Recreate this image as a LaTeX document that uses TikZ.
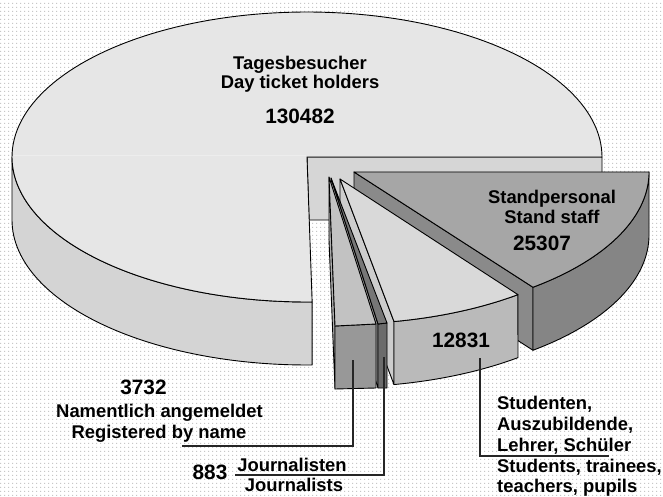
\documentclass[tikz,border=0pt]{standalone}
\usepackage{fontspec}
\setmainfont{Liberation Sans}
\usetikzlibrary{patterns.meta}
\tikzdeclarepattern{
  name=bgdots,
  type=uncolored,
  bounding box={(0pt,0pt) and (4pt,4pt)},
  tile size={(4pt,4pt)},
  code={\pgfpathrectangle{\pgfpoint{1.4pt}{1.4pt}}{\pgfpoint{1.2pt}{1.2pt}}\pgfusepath{fill}}
}
\definecolor{bigtop}{HTML}{E6E6E6}
\definecolor{bigwall}{HTML}{D4D4D4}
\definecolor{bigface}{HTML}{D6D6D6}
\definecolor{sptop}{HTML}{A6A6A6}
\definecolor{spwall}{HTML}{858585}
\definecolor{spcut}{HTML}{8A8A8A}
\definecolor{sttop}{HTML}{D9D9D9}
\definecolor{stfront}{HTML}{BABABA}
\definecolor{stcut}{HTML}{CDCDCD}
\definecolor{jtop}{HTML}{777777}
\definecolor{jfront}{HTML}{6B6B6B}
\definecolor{jcut}{HTML}{9A9A9A}
\definecolor{ntop}{HTML}{C2C2C2}
\definecolor{nfront}{HTML}{989898}
\definecolor{ncut}{HTML}{B0B0B0}
\definecolor{faint}{HTML}{EDEDED}
\begin{document}
\begin{tikzpicture}[x=1pt,y=-1pt,
  edge/.style={draw=black, line width=0.9pt, line join=round},
  lead/.style={draw=black!85, line width=1.3pt},
  lbl/.style={font=\fontsize{18.4}{20}\selectfont\bfseries, inner sep=0pt, anchor=base},
  num/.style={font=\fontsize{20.8}{22}\selectfont\bfseries, inner sep=0pt, anchor=base}]
\useasboundingbox (0,0) rectangle (663,497);
\fill[white] (0,0) rectangle (663,497);
\fill[pattern=bgdots, pattern color=black!22] (0,0) rectangle (663,497);

% big slice: wall, cut face, top
\filldraw[edge, fill=bigwall] plot[domain=180:271, samples=60, variable=\t] ({307+295*cos(\t)},{157-145*sin(\t)})
  -- plot[domain=271:180, samples=60, variable=\t] ({307+295*cos(\t)},{220-145*sin(\t)}) -- cycle;
\filldraw[edge, fill=bigface] (307,157) -- (602,157) -- (602,220) -- (309,220) -- cycle;
\filldraw[edge, fill=bigtop] (307,157) -- plot[domain=0:271, samples=150, variable=\t] ({307+295*cos(\t)},{157-145*sin(\t)}) -- cycle;
\draw[color=faint, line width=0.6pt] (13,155.5) -- (306,155.5);

% Standpersonal
\filldraw[edge, fill=spcut] (354,172) -- (533,287.3) -- (533,350.3) -- (354,235) -- cycle;
\filldraw[edge, fill=spwall] plot[domain=-52.65:0, samples=50, variable=\t] ({354+295*cos(\t)},{172-145*sin(\t)})
  -- plot[domain=0:-52.65, samples=50, variable=\t] ({354+295*cos(\t)},{235-145*sin(\t)}) -- cycle;
\filldraw[edge, fill=sptop] (354,172) -- plot[domain=0:-52.65, samples=50, variable=\t] ({354+295*cos(\t)},{172-145*sin(\t)}) -- cycle;

% 12831
\filldraw[edge, fill=stcut] (340,179) -- (394,321.6) -- (394,384.6) -- (340,242) -- cycle;
\filldraw[edge, fill=stfront] plot[domain=-79.45:-52.9, samples=40, variable=\t] ({340+295*cos(\t)},{179-145*sin(\t)})
  -- plot[domain=-52.9:-79.45, samples=40, variable=\t] ({340+295*cos(\t)},{242-145*sin(\t)}) -- cycle;
\filldraw[edge, fill=sttop] (340,179) -- plot[domain=-79.45:-52.9, samples=40, variable=\t] ({340+295*cos(\t)},{179-145*sin(\t)}) -- cycle;

% 883
\filldraw[edge, fill=jcut] (331,178) -- (378,324) -- (378,388) -- (331,241) -- cycle;
\filldraw[edge, fill=jfront] (378,324) -- (387,323) -- (387,388) -- (378,388) -- cycle;
\filldraw[edge, fill=jtop] (331,178) -- (378,324) -- (387,323) -- cycle;

% 3732
\filldraw[edge, fill=ncut] (329,177) -- (335,326) -- (335,389) -- (329,240) -- cycle;
\filldraw[edge, fill=nfront] (335,326) -- (376,324) -- (376,388) -- (335,389) -- cycle;
\filldraw[edge, fill=ntop] (329,177) -- (335,326) -- (376,324) -- cycle;

% labels
\node[lbl] (tb1) at (300,70) {Tagesbesucher};
\node[lbl] (tb2) at (300,89) {Day ticket holders};
\node[num] (tbn) at (300,124) {130482};
\node[lbl] (sp1) at (552,203) {Standpersonal};
\node[lbl] (sp2) at (552,223) {Stand staff};
\node[num] (spn) at (542,250) {25307};
\node[num] (stn) at (461,347) {12831};
\node[num] (nan) at (143.5,394) {3732};
\node[lbl] (na1) at (159.5,417) {Namentlich angemeldet};
\node[lbl] (na2) at (159,438) {Registered by name};
\node[num] (jon) at (210,479) {883};
\node[lbl] (jo1) at (292,471) {Journalisten};
\node[lbl] (jo2) at (294,491) {Journalists};
\node[lbl, anchor=base west] (st1) at (497,409) {Studenten,};
\node[lbl, anchor=base west] (st2) at (497,430.5) {Auszubildende,};
\node[lbl, anchor=base west] (st3) at (497,451.5) {Lehrer, Schüler};
\node[lbl, anchor=base west] (st4) at (497,472) {Students, trainees,};
\node[lbl, anchor=base west] (st5) at (497,492) {teachers, pupils};

% leader lines
\coordinate (na-in) at (353,360);
\coordinate (na-end) at (182,446);
\coordinate (jo-in) at (384,357);
\coordinate (jo-end) at (235,475);
\coordinate (st-in) at (480,358);
\coordinate (st-end) at (609,456);
\draw[lead] (na-in) |- (na-end);
\draw[lead] (jo-in) |- (jo-end);
\draw[lead] (st-in) |- (st-end);
\end{tikzpicture}
\end{document}
